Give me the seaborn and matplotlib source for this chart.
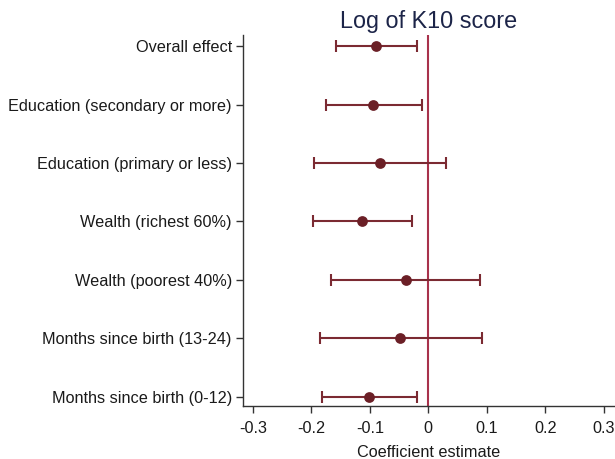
import matplotlib
matplotlib.use("Agg")
import matplotlib.pyplot as plt
import seaborn as sns
import pandas as pd

labels = ["Overall effect", "Education (secondary or more)", "Education (primary or less)",
          "Wealth (richest 60%)", "Wealth (poorest 40%)", "Months since birth (13-24)",
          "Months since birth (0-12)"]
estimate = [-0.089, -0.094, -0.082, -0.114, -0.039, -0.048, -0.101]
ci_low = [-0.158, -0.175, -0.195, -0.198, -0.167, -0.186, -0.181]
ci_high = [-0.019, -0.011, 0.031, -0.028, 0.089, 0.0915, -0.019]
xticks = [-0.3, -0.2, -0.1, 0, 0.1, 0.2, 0.3]
xticklabels = ["-0.3", "-0.2", "-0.1", "0", "0.1", "0.2", "0.3"]

df = pd.DataFrame({"label": labels, "est": estimate, "lo": ci_low, "hi": ci_high})
df["pos"] = range(len(df))

sns.set_style("ticks")
plt.rcParams["font.family"] = ["Liberation Sans", "DejaVu Sans"]

fig = plt.figure(figsize=(6.15, 4.59), dpi=100)
ax = fig.add_axes([0.395, 0.1155, 0.603, 0.8082])

line_col = "#7B2A32"
ax.errorbar(df["est"], df["pos"],
            xerr=[df["est"] - df["lo"], df["hi"] - df["est"]],
            fmt="none", ecolor=line_col, elinewidth=1.5, capsize=4, capthick=1.5, zorder=2)
sns.scatterplot(data=df, x="est", y="pos", ax=ax, color="#6B1F26", s=60,
                edgecolor="#6B1F26", linewidth=0, zorder=3)
ax.axvline(0, color="#A8324C", lw=1.5, zorder=1)

ax.set_xlim(-0.317, 0.317)
ax.set_ylim(len(labels) - 1 + 0.16, -0.19)
ax.set_yticks(df["pos"])
ax.set_yticklabels(labels, fontsize=11.7, color="#1a1a1a")
ax.set_xticks(xticks)
ax.set_xticklabels(xticklabels, fontsize=11.7, color="#1a1a1a")
ax.set_xlabel("Coefficient estimate", fontsize=11.7, color="#1a1a1a", labelpad=6)
ax.set_ylabel("")
ax.set_title("Log of K10 score", fontsize=16.8, color="#1C2448", pad=5)

for s in ["top", "right"]:
    ax.spines[s].set_visible(False)
for s in ["left", "bottom"]:
    ax.spines[s].set_color("#333333")
    ax.spines[s].set_linewidth(1.0)
ax.tick_params(axis="y", length=5, width=1.0, color="#333333", pad=3)
ax.tick_params(axis="x", length=5, width=1.0, color="#333333", pad=6)

fig.savefig("out.png", dpi=100)
